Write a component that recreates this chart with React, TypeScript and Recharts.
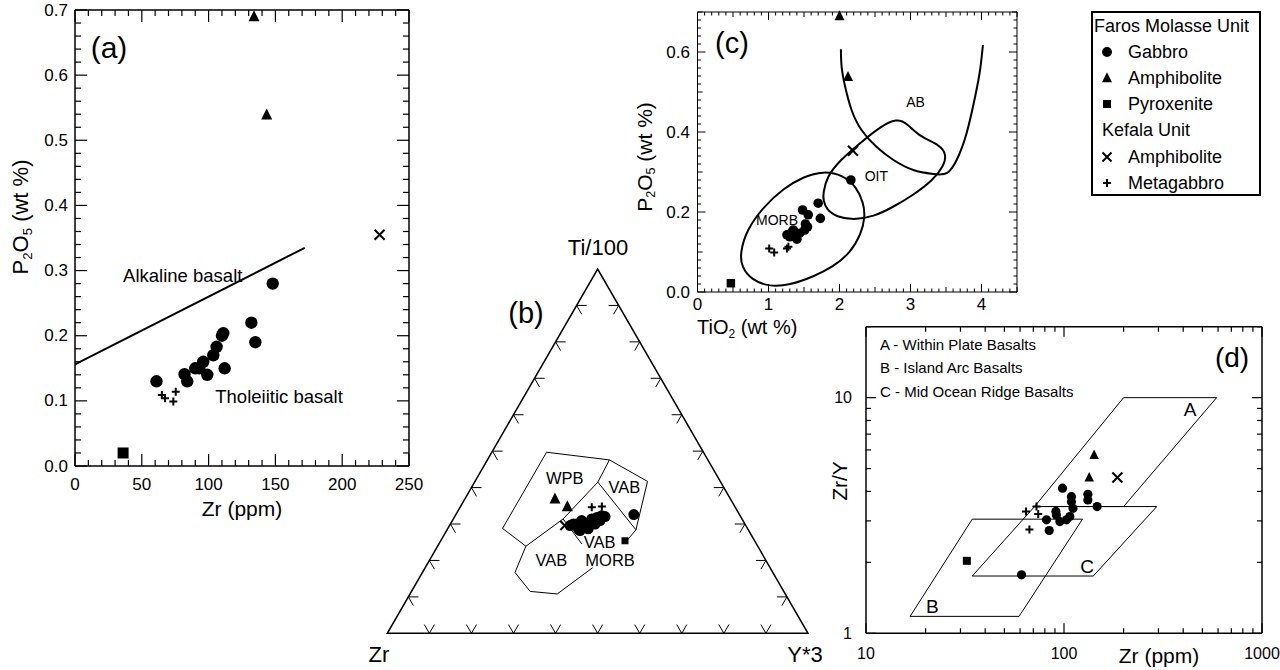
import React from 'react';
import { ScatterChart, Scatter, XAxis, YAxis } from 'recharts';

const FONT = '"Liberation Sans", Arial, Helvetica, sans-serif';
const INK = '#000';
const SQ = Math.sqrt(3) / 2;

type P = number[];

// ---------- (a) Zr (ppm) vs P2O5 (wt %) ----------
const aGabbro: P[] = [
  [61, 0.13], [82, 0.141], [84, 0.13], [90, 0.15], [93, 0.15], [96, 0.16], [99, 0.14], [103.5, 0.17],
  [106, 0.183], [110, 0.2], [111, 0.204], [112, 0.15], [132, 0.22], [135, 0.19], [148, 0.28],
];
const aAmphibolite: P[] = [[134, 0.69], [143.5, 0.539]];
const aPyroxenite: P[] = [[36, 0.02]];
const aKefAmphibolite: P[] = [[228, 0.355]];
const aMetagabbro: P[] = [[65, 0.109], [67.4, 0.104], [73.6, 0.099], [75.4, 0.114]];
const aAlkalineLine: P[] = [[0, 0.156], [172, 0.335]];
const aXLabels = [0, 50, 100, 150, 200, 250];
const aYLabels = [0, 0.1, 0.2, 0.3, 0.4, 0.5, 0.6, 0.7];
const aFieldNames = [
  { x: 36, y: 0.293, text: 'Alkaline basalt' },
  { x: 105, y: 0.106, text: 'Tholeiitic basalt' },
];

// ---------- (b) Ti/100 - Zr - Y*3 ternary, values as [Ti, Zr, Y] % ----------
const bGabbro: P[] = [
  [30.0, 40.8, 29.2], [28.7, 40.3, 31.1], [30.9, 38.3, 30.7], [30.0, 37.6, 32.4], [31.4, 35.7, 32.9],
  [31.8, 34.3, 33.9], [32.3, 32.9, 34.8], [32.0, 32.2, 35.7], [30.0, 40.0, 30.0], [28.7, 37.9, 33.4],
  [30.0, 35.6, 34.4], [30.9, 34.0, 35.1], [28.2, 40.1, 31.7], [29.6, 41.8, 28.7], [32.6, 25.1, 42.3],
];
const bAmphibolite: P[] = [[36.9, 41.7, 21.4], [34.8, 39.8, 25.4]];
const bPyroxenite: P[] = [[25.4, 30.8, 43.8]];
const bKefAmphibolite: P[] = [[29.6, 43.0, 27.4]];
const bMetagabbro: P[] = [[34.6, 34.1, 31.3], [34.8, 31.6, 33.6]];
const bOuter: P[] = [[28.8, 58.2, 13.0], [49.7, 37.3, 13.0], [47.6, 23.4, 29.0], [41.7, 17.3, 41.0], [28.4, 26.7, 44.9], [25.3, 30.5, 44.2]];
const bWpbBase: P[] = [[28.8, 58.2, 13.0], [23.9, 55.1, 21.0], [31.4, 42.5, 26.1], [41.5, 29.2, 29.3], [47.6, 23.4, 29.0]];
const bVabSplit: P[] = [[41.5, 29.2, 29.3], [28.4, 26.7, 44.9]];
const bMorbTick: P[] = [[31.4, 42.5, 26.1], [24.5, 41.5, 34.0]];
const bLower: P[] = [[23.9, 55.1, 21.0], [16.7, 61.3, 22.0], [11.5, 60.3, 28.2], [10.8, 54.2, 35.0], [18.0, 42.2, 39.8]];
const bFieldNames = [
  { t: [42.6, 36.5, 20.9], text: 'WPB' },
  { t: [40.1, 23.6, 36.3], text: 'VAB' },
  { t: [25.1, 37.0, 37.9], text: 'VAB' },
  { t: [20.1, 37.0, 42.9], text: 'MORB' },
  { t: [20.0, 51.0, 29.0], text: 'VAB' },
];
const bTickSteps = [10, 20, 30, 40, 50, 60, 70, 80, 90];

// ---------- (c) TiO2 vs P2O5 ----------
const cGabbro: P[] = [
  [2.16, 0.28], [1.7, 0.222], [1.73, 0.184], [1.48, 0.205], [1.56, 0.193], [1.55, 0.163], [1.51, 0.155],
  [1.35, 0.155], [1.26, 0.143], [1.4, 0.132], [1.3, 0.138], [1.44, 0.147], [1.33, 0.15], [1.38, 0.14], [1.52, 0.17],
];
const cAmphibolite: P[] = [[2.0, 0.69], [2.12, 0.538]];
const cPyroxenite: P[] = [[0.47, 0.022]];
const cKefAmphibolite: P[] = [[2.19, 0.353]];
const cMetagabbro: P[] = [[1.01, 0.109], [1.08, 0.099], [1.26, 0.109], [1.28, 0.113]];
const cMorb: P[] = [
  [0.6, 0.097], [0.69, 0.155], [0.93, 0.213], [1.21, 0.259], [1.49, 0.288], [1.77, 0.3025], [2.05, 0.2925],
  [2.24, 0.263], [2.34, 0.222], [2.36, 0.188], [2.31, 0.147], [2.15, 0.097], [1.91, 0.063], [1.63, 0.038],
  [1.3, 0.0175], [1.02, 0.013], [0.76, 0.03], [0.62, 0.063],
];
const cOit: P[] = [
  [1.77, 0.247], [1.82, 0.288], [2.01, 0.33], [2.29, 0.372], [2.57, 0.413], [2.81, 0.434], [2.95, 0.422],
  [3.13, 0.388], [3.42, 0.3675], [3.51, 0.3425], [3.46, 0.313], [3.32, 0.28], [3.04, 0.2425], [2.76, 0.213],
  [2.48, 0.188], [2.19, 0.18], [1.96, 0.188], [1.82, 0.205], [1.77, 0.23],
];
const cAb: P[] = [
  [2.02, 0.607], [2.03, 0.563], [2.08, 0.513], [2.17, 0.455], [2.31, 0.405], [2.52, 0.363], [2.76, 0.33],
  [3.04, 0.305], [3.32, 0.295], [3.51, 0.297], [3.65, 0.33], [3.79, 0.397], [3.91, 0.488], [3.98, 0.555], [4.02, 0.6175],
];
const cXLabels = [0, 1, 2, 3, 4];
const cYLabels = [0, 0.2, 0.4, 0.6];
const cFieldNames = [
  { x: 1.12, y: 0.18, text: 'MORB' },
  { x: 2.52, y: 0.29, text: 'OIT' },
  { x: 3.07, y: 0.476, text: 'AB' },
];

// ---------- (d) Zr vs Zr/Y (log-log) ----------
const dGabbro: P[] = [
  [98.3, 4.13], [109, 3.8], [109, 3.62], [132, 3.89], [132, 3.68], [147, 3.45], [111, 3.39], [91, 3.29],
  [91.5, 3.18], [103, 3.03], [95.3, 2.98], [107, 3.13], [81.6, 3.03], [84.2, 2.73], [61, 1.77],
];
const dAmphibolite: P[] = [[142, 5.71], [134, 4.58]];
const dPyroxenite: P[] = [[32.3, 2.03]];
const dKefAmphibolite: P[] = [[186, 4.58]];
const dMetagabbro: P[] = [[64.3, 3.29], [72.6, 3.45], [74.1, 3.21], [66.9, 2.76]];
const dFieldA: P[] = [[200, 10], [590, 10], [200, 3.45], [71, 3.45]];
const dFieldB: P[] = [[34.4, 3.05], [124, 3.05], [59.3, 1.18], [16.7, 1.18]];
const dFieldC: P[] = [[71, 3.45], [294, 3.45], [140.6, 1.75], [34.4, 1.75]];
const dFieldNames = [
  { x: 433, y: 8.93, text: 'A' },
  { x: 21.6, y: 1.3, text: 'B' },
  { x: 131, y: 1.92, text: 'C' },
];
const dFieldKey = ['A - Within Plate Basalts', 'B - Island Arc Basalts', 'C - Mid Ocean Ridge Basalts'];
const dXLabels = [10, 100, 1000];
const dXTicks = [10, 20, 30, 40, 50, 60, 70, 80, 90, 100, 200, 300, 400, 500, 600, 700, 800, 900, 1000];
const dYLabels = [1, 10];
const dYTicks = [1, 2, 3, 4, 5, 6, 7, 8, 9, 10, 20];

const legendRows = [
  { sym: '', text: 'Faros Molasse Unit', header: true },
  { sym: 'circle', text: 'Gabbro' },
  { sym: 'triangle', text: 'Amphibolite' },
  { sym: 'square', text: 'Pyroxenite' },
  { sym: '', text: 'Kefala Unit', header: true },
  { sym: 'x', text: 'Amphibolite' },
  { sym: 'plus', text: 'Metagabbro' },
];

// ---------- helpers ----------
const xy = (arr: P[]) => arr.map(([x, y]) => ({ x, y }));
const tern = ([ti, zr, yy]: P) => {
  const s = ti + zr + yy;
  return { x: (yy + ti / 2) / s, y: (ti / s) * SQ };
};
const range = (a: number, b: number, step: number) => {
  const out: number[] = [];
  const n = Math.round((b - a) / step);
  for (let i = 0; i <= n; i++) out.push(+(a + i * step).toFixed(6));
  return out;
};
const near = (a: number, b: number) => Math.abs(a - b) < 1e-6;
const isMult = (v: number, s: number) => near(v / s, Math.round(v / s));

const dot = (r: number) => (p: any) => <circle cx={p.cx} cy={p.cy} r={r} fill={INK} />;
const tri = (s: number) => (p: any) => (
  <path d={`M${p.cx},${p.cy - s * 0.58}L${p.cx + s / 2},${p.cy + s * 0.42}L${p.cx - s / 2},${p.cy + s * 0.42}Z`} fill={INK} />
);
const sq = (s: number) => (p: any) => <rect x={p.cx - s / 2} y={p.cy - s / 2} width={s} height={s} fill={INK} />;
const cross = (s: number, w: number) => (p: any) => (
  <path d={`M${p.cx - s / 2},${p.cy - s / 2}L${p.cx + s / 2},${p.cy + s / 2}M${p.cx + s / 2},${p.cy - s / 2}L${p.cx - s / 2},${p.cy + s / 2}`} stroke={INK} strokeWidth={w} />
);
const plus = (s: number, w: number) => (p: any) => (
  <path d={`M${p.cx - s / 2},${p.cy}L${p.cx + s / 2},${p.cy}M${p.cx},${p.cy - s / 2}L${p.cx},${p.cy + s / 2}`} stroke={INK} strokeWidth={w} />
);
const none = () => <g />;
const textShape = (text: string, size: number, anchor = 'middle') => (p: any) => (
  <text x={p.cx} y={p.cy} fontSize={size} fontFamily={FONT} textAnchor={anchor} dominantBaseline="central" fill={INK}>
    {text}
  </text>
);

const line = (key: string, data: { x: number; y: number }[], width: number, joint: any = 'linear') => (
  <Scatter key={key} data={data} line={{ stroke: INK, strokeWidth: width }} lineJointType={joint} shape={none} isAnimationActive={false} />
);

type Seg = { x: number; y: number }[];
// inward tick segments on all four sides; mvX / mvY shift a value by some pixels towards larger values
const frameSegs = (
  xt: number[], yt: number[], xr: number[], yr: number[],
  lvX: (v: number) => number, lvY: (v: number) => number, lens: number[],
  mvX: (v: number, px: number) => number, mvY: (v: number, px: number) => number,
) => {
  const segs: Seg[] = [];
  xt.forEach((v) => {
    const L = lens[lvX(v)];
    segs.push([{ x: v, y: yr[0] }, { x: v, y: mvY(yr[0], L) }]);
    segs.push([{ x: v, y: yr[1] }, { x: v, y: mvY(yr[1], -L) }]);
  });
  yt.forEach((v) => {
    const L = lens[lvY(v)];
    segs.push([{ x: xr[0], y: v }, { x: mvX(xr[0], L), y: v }]);
    segs.push([{ x: xr[1], y: v }, { x: mvX(xr[1], -L), y: v }]);
  });
  return segs;
};
const linMove = (span: number, px: number) => (v: number, d: number) => v + (d * span) / px;
const logMove = (decades: number, px: number) => (v: number, d: number) => v * Math.pow(10, (d * decades) / px);

type Sizes = { r: number; t: number; s: number; x: number; p: number; w: number };
const markerSeries = (id: string, sets: { x: number; y: number }[][], z: Sizes) => [
  <Scatter key={id + 'g'} name="Gabbro" data={sets[0]} shape={dot(z.r)} isAnimationActive={false} />,
  <Scatter key={id + 'a'} name="Amphibolite" data={sets[1]} shape={tri(z.t)} isAnimationActive={false} />,
  <Scatter key={id + 's'} name="Pyroxenite" data={sets[2]} shape={sq(z.s)} isAnimationActive={false} />,
  <Scatter key={id + 'x'} name="Kefala amphibolite" data={sets[3]} shape={cross(z.x, z.w)} isAnimationActive={false} />,
  <Scatter key={id + 'p'} name="Metagabbro" data={sets[4]} shape={plus(z.p, z.w)} isAnimationActive={false} />,
];

const labelFn = (side: 'bottom' | 'left', fmt: (v: number) => string, size: number, gap: number) =>
  (props: any) => {
    const x = Number(props.x);
    const y = Number(props.y);
    const v = props.payload.value;
    return side === 'bottom' ? (
      <text x={x} y={y + gap} textAnchor="middle" dominantBaseline="central" fontSize={size} fontFamily={FONT} fill={INK}>{fmt(v)}</text>
    ) : (
      <text x={x - gap} y={y} textAnchor="end" dominantBaseline="central" fontSize={size} fontFamily={FONT} fill={INK}>{fmt(v)}</text>
    );
  };

const Txt = ({ x, y, size, children, rotate, anchor }: any) => (
  <div
    style={{
      position: 'absolute', left: x, top: y, fontSize: size, lineHeight: 1, whiteSpace: 'nowrap', fontFamily: FONT, color: INK,
      transform: `translate(${anchor === 'start' ? '0' : '-50%'},-50%)${rotate ? ' rotate(-90deg)' : ''}`,
    }}
  >
    {children}
  </div>
);
const Sub = ({ children }: any) => <sub style={{ fontSize: '0.6em', verticalAlign: '-0.3em', lineHeight: 0 }}>{children}</sub>;

const LegendSym = ({ sym }: { sym: string }) => {
  const c = { cx: 10, cy: 10 };
  const map: any = { circle: dot(5), triangle: tri(10), square: sq(8), x: cross(9, 2), plus: plus(8, 2) };
  return <svg width={20} height={20} style={{ display: 'block' }}>{map[sym] ? map[sym](c) : null}</svg>;
};

const frame15 = { stroke: INK, strokeWidth: 1.5 };
const frame1 = { stroke: INK, strokeWidth: 1 };

const App: React.FC = () => {
  const inList = (list: number[]) => (v: number) => list.some((l) => near(l, v));
  const aLvX = (v: number) => (inList(aXLabels)(v) ? 0 : 2);
  const aLvY = (v: number) => (inList(aYLabels)(v) ? 0 : 2);
  const cLvX = (v: number) => (inList(cXLabels)(v) ? 0 : isMult(v, 0.5) ? 1 : 2);
  const cLvY = (v: number) => (inList(cYLabels)(v) ? 0 : isMult(v, 0.1) ? 1 : 2);
  const dLvX = (v: number) => (inList(dXLabels)(v) ? 0 : 2);
  const dLvY = (v: number) => (inList(dYLabels)(v) ? 0 : 2);

  const aSegs = frameSegs(range(0, 250, 10), range(0, 0.7, 0.02), [0, 250], [0, 0.7], aLvX, aLvY, [12, 9, 6], linMove(250, 334), linMove(0.7, 456));
  const cSegs = frameSegs(range(0, 4.5, 0.1), range(0, 0.7, 0.02), [0, 4.5], [0, 0.7], cLvX, cLvY, [8, 5, 3.5], linMove(4.5, 319.5), linMove(0.7, 280));
  const dSegs = frameSegs(dXTicks, dYTicks, [10, 1000], [1, 20], dLvX, dLvY, [10, 7, 5], logMove(2, 396), logMove(Math.log10(20), 306.6));

  // ternary tick marks, built in triangle space
  const L = 0.024;
  const bTicks: Seg[] = [];
  bTickSteps.forEach((t) => {
    const b = tern([0, 100 - t, t]);
    bTicks.push([{ x: b.x - 0.5 * L, y: b.y + SQ * L }, b, { x: b.x + 0.5 * L, y: b.y + SQ * L }]);
    const l = tern([t, 100 - t, 0]);
    bTicks.push([{ x: l.x + L, y: l.y }, l, { x: l.x + 0.5 * L, y: l.y - SQ * L }]);
    const r = tern([t, 0, 100 - t]);
    bTicks.push([{ x: r.x - L, y: r.y }, r, { x: r.x - 0.5 * L, y: r.y - SQ * L }]);
  });

  const tp = (arr: P[]) => arr.map(tern);

  return (
    <div style={{ position: 'absolute', left: 0, top: 0, width: 1280, height: 670, background: '#fff', overflow: 'hidden', fontFamily: FONT }}>
      {/* (a) */}
      <div style={{ position: 'absolute', left: 0, top: 0 }}>
        <ScatterChart width={430} height={530} margin={{ top: 10, right: 21, bottom: 0, left: 0 }}>
          <XAxis type="number" dataKey="x" domain={[0, 250]} ticks={aXLabels} interval={0} height={64} tickSize={0} tickMargin={0}
            axisLine={frame15} tickLine={false} tick={labelFn('bottom', (v) => String(v), 17, 18)} />
          <XAxis xAxisId="top" orientation="top" mirror type="number" dataKey="x" domain={[0, 250]} ticks={aXLabels} tick={false} tickLine={false} axisLine={frame15} />
          <YAxis type="number" dataKey="y" domain={[0, 0.7]} ticks={aYLabels} interval={0} width={75} tickSize={0} tickMargin={0}
            axisLine={frame15} tickLine={false} tick={labelFn('left', (v) => v.toFixed(1), 17, 7)} />
          <YAxis yAxisId="right" orientation="right" mirror type="number" dataKey="y" domain={[0, 0.7]} ticks={aYLabels} tick={false} tickLine={false} axisLine={frame15} />
          {aSegs.map((s, i) => line('aT' + i, s, 1.2))}
          {line('aline', xy(aAlkalineLine), 2)}
          {aFieldNames.map((f, i) => (
            <Scatter key={'at' + i} data={[{ x: f.x, y: f.y }]} shape={textShape(f.text, 18.5, 'start')} isAnimationActive={false} />
          ))}
          {markerSeries('a', [xy(aGabbro), xy(aAmphibolite), xy(aPyroxenite), xy(aKefAmphibolite), xy(aMetagabbro)],
            { r: 6.2, t: 11, s: 11, x: 10, p: 8, w: 2 })}
        </ScatterChart>
      </div>
      <Txt x={109} y={48} size={30}>(a)</Txt>
      <Txt x={21} y={217} size={22} rotate>P<Sub>2</Sub>O<Sub>5</Sub> (wt %)</Txt>
      <Txt x={242} y={508} size={21}>Zr (ppm)</Txt>

      {/* (b) ternary */}
      <div style={{ position: 'absolute', left: 380, top: 230 }}>
        <ScatterChart width={440} height={420} margin={{ top: 39, right: 12, bottom: 16.7, left: 7.3 }}>
          <XAxis type="number" dataKey="x" domain={[0, 1]} hide />
          <YAxis type="number" dataKey="y" domain={[0, SQ]} hide />
          {line('tri', tp([[0, 100, 0], [0, 0, 100], [100, 0, 0]]), 1.5, 'linearClosed')}
          {bTicks.map((t, i) => line('tk' + i, t, 1))}
          {line('bo', tp(bOuter), 1)}
          {line('bw', tp(bWpbBase), 1)}
          {line('bv', tp(bVabSplit), 1)}
          {line('bm', tp(bMorbTick), 1)}
          {line('bl', tp(bLower), 1)}
          {bFieldNames.map((f, i) => (
            <Scatter key={'bt' + i} data={[tern(f.t)]} shape={textShape(f.text, 16.5)} isAnimationActive={false} />
          ))}
          {markerSeries('b', [tp(bGabbro), tp(bAmphibolite), tp(bPyroxenite), tp(bKefAmphibolite), tp(bMetagabbro)],
            { r: 5.5, t: 11, s: 7, x: 9, p: 8, w: 2 })}
        </ScatterChart>
      </div>
      <Txt x={526} y={313} size={29}>(b)</Txt>
      <Txt x={598} y={248} size={22}>Ti/100</Txt>
      <Txt x={379} y={655} size={22}>Zr</Txt>
      <Txt x={805} y={655} size={22}>Y*3</Txt>

      {/* (c) */}
      <div style={{ position: 'absolute', left: 620, top: 0 }}>
        <ScatterChart width={420} height={340} margin={{ top: 12, right: 23, bottom: 0, left: 0 }}>
          <XAxis type="number" dataKey="x" domain={[0, 4.5]} ticks={cXLabels} interval={0} height={48} tickSize={0} tickMargin={0}
            axisLine={frame1} tickLine={false} tick={labelFn('bottom', (v) => String(v), 17, 12)} />
          <XAxis xAxisId="top" orientation="top" mirror type="number" dataKey="x" domain={[0, 4.5]} ticks={cXLabels} tick={false} tickLine={false} axisLine={frame1} />
          <YAxis type="number" dataKey="y" domain={[0, 0.7]} ticks={cYLabels} interval={0} width={77.5} tickSize={0} tickMargin={0}
            axisLine={frame1} tickLine={false} tick={labelFn('left', (v) => v.toFixed(1), 17, 7.5)} />
          <YAxis yAxisId="right" orientation="right" mirror type="number" dataKey="y" domain={[0, 0.7]} ticks={cYLabels} tick={false} tickLine={false} axisLine={frame1} />
          {cSegs.map((s, i) => line('cT' + i, s, 1))}
          {line('cm', xy(cMorb), 2, 'basisClosed')}
          {line('co', xy(cOit), 2, 'basisClosed')}
          {line('ca', xy(cAb), 2, 'natural')}
          {cFieldNames.map((f, i) => (
            <Scatter key={'ct' + i} data={[{ x: f.x, y: f.y }]} shape={textShape(f.text, 14)} isAnimationActive={false} />
          ))}
          {markerSeries('c', [xy(cGabbro), xy(cAmphibolite), xy(cPyroxenite), xy(cKefAmphibolite), xy(cMetagabbro)],
            { r: 4.8, t: 10, s: 8.5, x: 10, p: 8, w: 2 })}
        </ScatterChart>
      </div>
      <Txt x={732} y={43} size={29}>(c)</Txt>
      <Txt x={644} y={157} size={21} rotate>P<Sub>2</Sub>O<Sub>5</Sub> (wt %)</Txt>
      <Txt x={697} y={327} size={20} anchor="start">TiO<Sub>2</Sub> (wt %)</Txt>

      {/* legend */}
      <div style={{ position: 'absolute', left: 1091, top: 11, width: 166, height: 181, border: '2px solid #000', background: '#fff' }}>
        {legendRows.map((row, i) => (
          <div key={i} style={{ position: 'absolute', top: 15 + i * 26.1 - 2, left: 0, height: 0 }}>
            {row.header ? (
              <div style={{ position: 'absolute', left: i === 0 ? 1 : 9, top: -10, fontSize: 18, lineHeight: '20px', whiteSpace: 'nowrap' }}>{row.text}</div>
            ) : (
              <>
                <div style={{ position: 'absolute', left: 4, top: -10 }}><LegendSym sym={row.sym} /></div>
                <div style={{ position: 'absolute', left: 35, top: -10, fontSize: 18, lineHeight: '20px', whiteSpace: 'nowrap' }}>{row.text}</div>
              </>
            )}
          </div>
        ))}
      </div>

      {/* (d) */}
      <div style={{ position: 'absolute', left: 820, top: 310 }}>
        <ScatterChart width={460} height={360} margin={{ top: 16.7, right: 18, bottom: 0, left: 0 }}>
          <XAxis type="number" scale="log" dataKey="x" domain={[10, 1000]} ticks={dXLabels} interval={0} height={36.7} tickSize={0} tickMargin={0}
            axisLine={frame15} tickLine={false} tick={labelFn('bottom', (v) => String(v), 16, 20)} />
          <XAxis xAxisId="top" orientation="top" mirror type="number" scale="log" dataKey="x" domain={[10, 1000]} ticks={dXLabels} tick={false} tickLine={false} axisLine={frame15} />
          <YAxis type="number" scale="log" dataKey="y" domain={[1, 20]} ticks={dYLabels} interval={0} width={46} tickSize={0} tickMargin={0}
            axisLine={frame15} tickLine={false} tick={labelFn('left', (v) => String(v), 16, 14)} />
          <YAxis yAxisId="right" orientation="right" mirror type="number" scale="log" dataKey="y" domain={[1, 20]} ticks={dYLabels} tick={false} tickLine={false} axisLine={frame15} />
          {dSegs.map((s, i) => line('dT' + i, s, 1.2))}
          {line('dA', xy(dFieldA), 1, 'linearClosed')}
          {line('dB', xy(dFieldB), 1, 'linearClosed')}
          {line('dC', xy(dFieldC), 1, 'linearClosed')}
          {dFieldNames.map((f, i) => (
            <Scatter key={'dt' + i} data={[{ x: f.x, y: f.y }]} shape={textShape(f.text, 19)} isAnimationActive={false} />
          ))}
          {markerSeries('d', [xy(dGabbro), xy(dAmphibolite), xy(dPyroxenite), xy(dKefAmphibolite), xy(dMetagabbro)],
            { r: 4.6, t: 9.5, s: 8, x: 10, p: 8, w: 2 })}
        </ScatterChart>
      </div>
      {dFieldKey.map((t, i) => (
        <Txt key={t} x={880} y={343.5 + i * 23.7} size={15} anchor="start">{t}</Txt>
      ))}
      <Txt x={1232} y={358} size={28}>(d)</Txt>
      <Txt x={839} y={481} size={21} rotate>Zr/Y</Txt>
      <Txt x={1159} y={655} size={21}>Zr (ppm)</Txt>
    </div>
  );
};

export default App;
